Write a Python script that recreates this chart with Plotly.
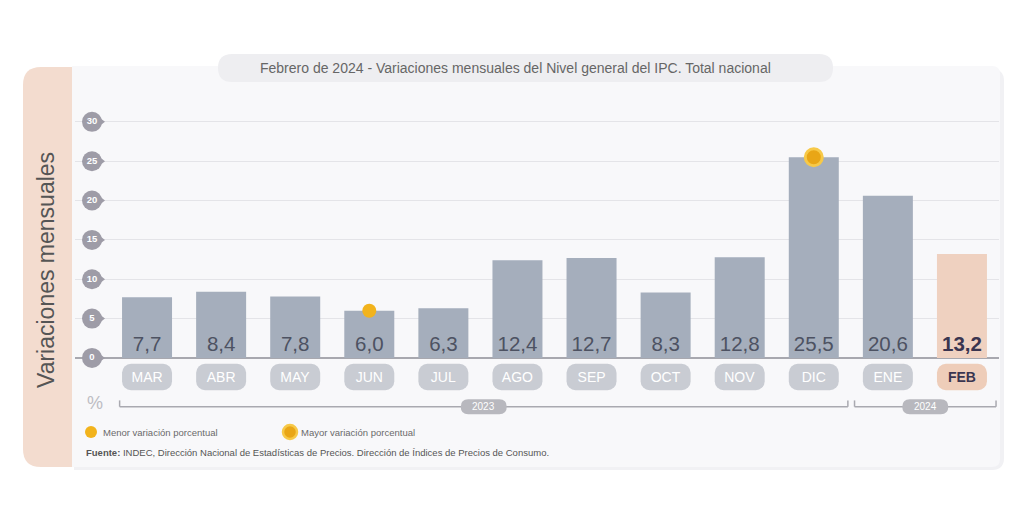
import plotly.graph_objects as go

# ---------------- data ----------------
months = ["MAR", "ABR", "MAY", "JUN", "JUL", "AGO", "SEP", "OCT", "NOV", "DIC", "ENE", "FEB"]
values = [7.7, 8.4, 7.8, 6.0, 6.3, 12.4, 12.7, 8.3, 12.8, 25.5, 20.6, 13.2]
years = ["2023"] * 10 + ["2024"] * 2
y_ticks = [0, 5, 10, 15, 20, 25, 30]
title_text = "Febrero de 2024 - Variaciones mensuales del Nivel general del IPC. Total nacional"
y_title = "Variaciones mensuales"
legend_min = "Menor variación porcentual"
legend_max = "Mayor variación porcentual"
source_text = "<b>Fuente:</b> INDEC, Dirección Nacional de Estadísticas de Precios. Dirección de Índices de Precios de Consumo."

# ---------------- geometry helpers ----------------
W, H = 1024, 512
PL = 75                      # paper left (px)
L, R, T, B = 110, 999, 114, 413   # main plot area (px)
YMIN, YMAX = -7, 31
N = len(months)
FONT = "Liberation Sans, Arial, sans-serif"
DOM0 = (L - PL) / (R - PL)


def X(px):
    return (px - PL) / (R - PL)


def Y(py):
    return (B - py) / (B - T)


def d2px(v):
    return L + (v + 0.5) * (R - L) / N


def d2py(v):
    return B - (v - YMIN) * (B - T) / (YMAX - YMIN)


def rrect(x0, y0, x1, y1, r):
    tl, tr, br, bl = r
    return (
        f"M {X(x0 + tl)},{Y(y0)} L {X(x1 - tr)},{Y(y0)} "
        f"Q {X(x1)},{Y(y0)} {X(x1)},{Y(y0 + tr)} "
        f"L {X(x1)},{Y(y1 - br)} Q {X(x1)},{Y(y1)} {X(x1 - br)},{Y(y1)} "
        f"L {X(x0 + bl)},{Y(y1)} Q {X(x0)},{Y(y1)} {X(x0)},{Y(y1 - bl)} "
        f"L {X(x0)},{Y(y0 + tl)} Q {X(x0)},{Y(y0)} {X(x0 + tl)},{Y(y0)} Z"
    )


idx = list(range(N))
last = N - 1
bar_colors = ["#a5aebc"] * (N - 1) + ["#efd1c0"]
label_colors = ["#c9ccd3"] * (N - 1) + ["#eecdb9"]
value_text = [f"{v:.1f}".replace(".", ",") for v in values]
value_text[last] = f"<b>{value_text[last]}</b>"
month_text = list(months)
month_text[last] = f"<b>{month_text[last]}</b>"
value_font_colors = ["#4d5262"] * (N - 1) + ["#3a3550"]
month_font_colors = ["#ffffff"] * (N - 1) + ["#3a3550"]

fig = go.Figure()

# value bars
fig.add_trace(go.Bar(
    x=idx, y=values, width=0.675,
    marker=dict(color=bar_colors, line=dict(width=0)),
    text=value_text, textposition="inside", insidetextanchor="start",
    textangle=0, constraintext="none",
    insidetextfont=dict(size=20.5, color=value_font_colors, family=FONT),
    hoverinfo="skip",
))

# month label tabs
fig.add_trace(go.Bar(
    x=idx, y=[-3.35] * N, base=-0.75, width=0.675,
    marker=dict(color=label_colors, line=dict(width=0), cornerradius=9),
    text=month_text, textposition="inside", insidetextanchor="middle",
    textangle=0, constraintext="none",
    insidetextfont=dict(size=14, color=month_font_colors, family=FONT),
    hoverinfo="skip",
))

# y tick bubbles (pointer + circle) on a narrow side axis
bx = (92 - PL) / (L - PL)
tx = (100.5 - PL) / (L - PL)
fig.add_trace(go.Scatter(
    x=[tx] * len(y_ticks), y=y_ticks, mode="markers", xaxis="x2", yaxis="y",
    marker=dict(symbol="triangle-right", size=9, color="#9e9ca7"),
    cliponaxis=False, hoverinfo="skip", showlegend=False,
))
fig.add_trace(go.Scatter(
    x=[bx] * len(y_ticks), y=y_ticks, mode="markers+text", xaxis="x2", yaxis="y",
    marker=dict(symbol="circle", size=20, color="#9e9ca7"),
    text=[f"<b>{t}</b>" for t in y_ticks], textposition="middle center",
    textfont=dict(size=9.5, color="#ffffff", family=FONT),
    cliponaxis=False, hoverinfo="skip", showlegend=False,
))

# min / max markers
imin = values.index(min(values))
imax = values.index(max(values))
fig.add_trace(go.Scatter(
    x=[imin], y=[values[imin]], mode="markers",
    marker=dict(size=14, color="#f2b31c", line=dict(width=0)),
    cliponaxis=False, hoverinfo="skip", showlegend=False,
))
fig.add_trace(go.Scatter(
    x=[imax], y=[values[imax]], mode="markers",
    marker=dict(size=17, color="#e9a616", line=dict(width=3, color="#f7c948")),
    cliponaxis=False, hoverinfo="skip", showlegend=False,
))

shapes = []
# card shadow, peach side panel, card, title pill
shapes.append(dict(type="path", xref="paper", yref="paper", layer="below",
                   path=rrect(74, 69, 1004, 470, (0, 12, 12, 0)),
                   fillcolor="#f1f1f4", line=dict(width=0)))
shapes.append(dict(type="path", xref="paper", yref="paper", layer="below",
                   path=rrect(23, 67, 95, 467, (18, 0, 0, 18)),
                   fillcolor="#f3dccf", line=dict(width=0)))
shapes.append(dict(type="path", xref="paper", yref="paper", layer="below",
                   path=rrect(72, 66, 1000, 467, (0, 8, 8, 0)),
                   fillcolor="#f8f8fa", line=dict(width=0)))
shapes.append(dict(type="path", xref="paper", yref="paper", layer="below",
                   path=rrect(218, 54, 833, 82, (14, 14, 14, 14)),
                   fillcolor="#eeeef1", line=dict(width=0)))

annotations = []
# year brackets
bracket_y = -6.2
groups = []
for i, yr in enumerate(years):
    if not groups or groups[-1][0] != yr:
        groups.append([yr, i, i])
    else:
        groups[-1][2] = i
for yr, s, e in groups:
    x0 = s - 0.45 if s > 0 else s - 0.37
    x1 = e + 0.46
    for seg in [(x0, bracket_y, x1, bracket_y), (x0, bracket_y, x0, bracket_y + 0.8),
                (x1, bracket_y, x1, bracket_y + 0.8)]:
        shapes.append(dict(type="line", xref="x", yref="y", layer="below",
                           x0=seg[0], y0=seg[1], x1=seg[2], y1=seg[3],
                           line=dict(color="#a9a9b0", width=1.5)))
    cx = d2px((x0 + x1) / 2)
    cy = d2py(bracket_y)
    shapes.append(dict(type="path", xref="paper", yref="paper", layer="above",
                       path=rrect(cx - 23, cy - 7.5, cx + 23, cy + 7.5, (7.5, 7.5, 7.5, 7.5)),
                       fillcolor="#b8b8be", line=dict(width=0)))
    annotations.append(dict(xref="paper", yref="paper", x=X(cx), y=Y(cy), text=yr,
                            showarrow=False, xanchor="center", yanchor="middle",
                            font=dict(size=10, color="#ffffff", family=FONT)))

# legend dots
shapes.append(dict(type="circle", xref="paper", yref="paper", layer="above",
                   x0=X(85), x1=X(97), y0=Y(426), y1=Y(438),
                   fillcolor="#f2b31c", line=dict(width=0)))
shapes.append(dict(type="circle", xref="paper", yref="paper", layer="above",
                   x0=X(283), x1=X(297), y0=Y(425), y1=Y(439),
                   fillcolor="#e9a616", line=dict(width=2.5, color="#f7c948")))

annotations += [
    dict(xref="paper", yref="paper", x=X(515), y=Y(68), text=title_text, showarrow=False,
         xanchor="center", yanchor="middle", font=dict(size=14, color="#666666", family=FONT)),
    dict(xref="paper", yref="paper", x=X(46), y=Y(270), text=y_title, showarrow=False,
         textangle=-90, xanchor="center", yanchor="middle",
         font=dict(size=23, color="#555555", family=FONT)),
    dict(xref="paper", yref="paper", x=X(95), y=Y(403), text="%", showarrow=False,
         xanchor="center", yanchor="middle", font=dict(size=18, color="#bdbdc3", family=FONT)),
    dict(xref="paper", yref="paper", x=X(101), y=Y(432), text=legend_min, showarrow=False,
         xanchor="left", yanchor="middle", font=dict(size=9.5, color="#6a6a6a", family=FONT)),
    dict(xref="paper", yref="paper", x=X(299), y=Y(432), text=legend_max, showarrow=False,
         xanchor="left", yanchor="middle", font=dict(size=9.5, color="#6a6a6a", family=FONT)),
    dict(xref="paper", yref="paper", x=X(84), y=Y(452), text=source_text, showarrow=False,
         xanchor="left", yanchor="middle", font=dict(size=9.5, color="#555555", family=FONT)),
]

fig.update_layout(
    width=W, height=H,
    margin=dict(l=PL, r=W - R, t=T, b=H - B, pad=0),
    paper_bgcolor="#ffffff", plot_bgcolor="rgba(0,0,0,0)",
    barmode="overlay", showlegend=False,
    font=dict(family=FONT),
    xaxis=dict(domain=[DOM0, 1], range=[-0.5, N - 0.5], showticklabels=False, showgrid=False,
               zeroline=False, showline=False, fixedrange=True),
    xaxis2=dict(domain=[0, DOM0], range=[0, 1], anchor="y", showticklabels=False,
                showgrid=False, zeroline=False, showline=False, fixedrange=True),
    yaxis=dict(range=[YMIN, YMAX], tickvals=y_ticks, showticklabels=False,
               showgrid=True, gridcolor="#e4e4e8", gridwidth=1,
               zeroline=True, zerolinecolor="#a8a8af", zerolinewidth=2,
               showline=False, fixedrange=True),
    shapes=shapes, annotations=annotations,
)

fig.write_html("out.html", config={"displayModeBar": False})
